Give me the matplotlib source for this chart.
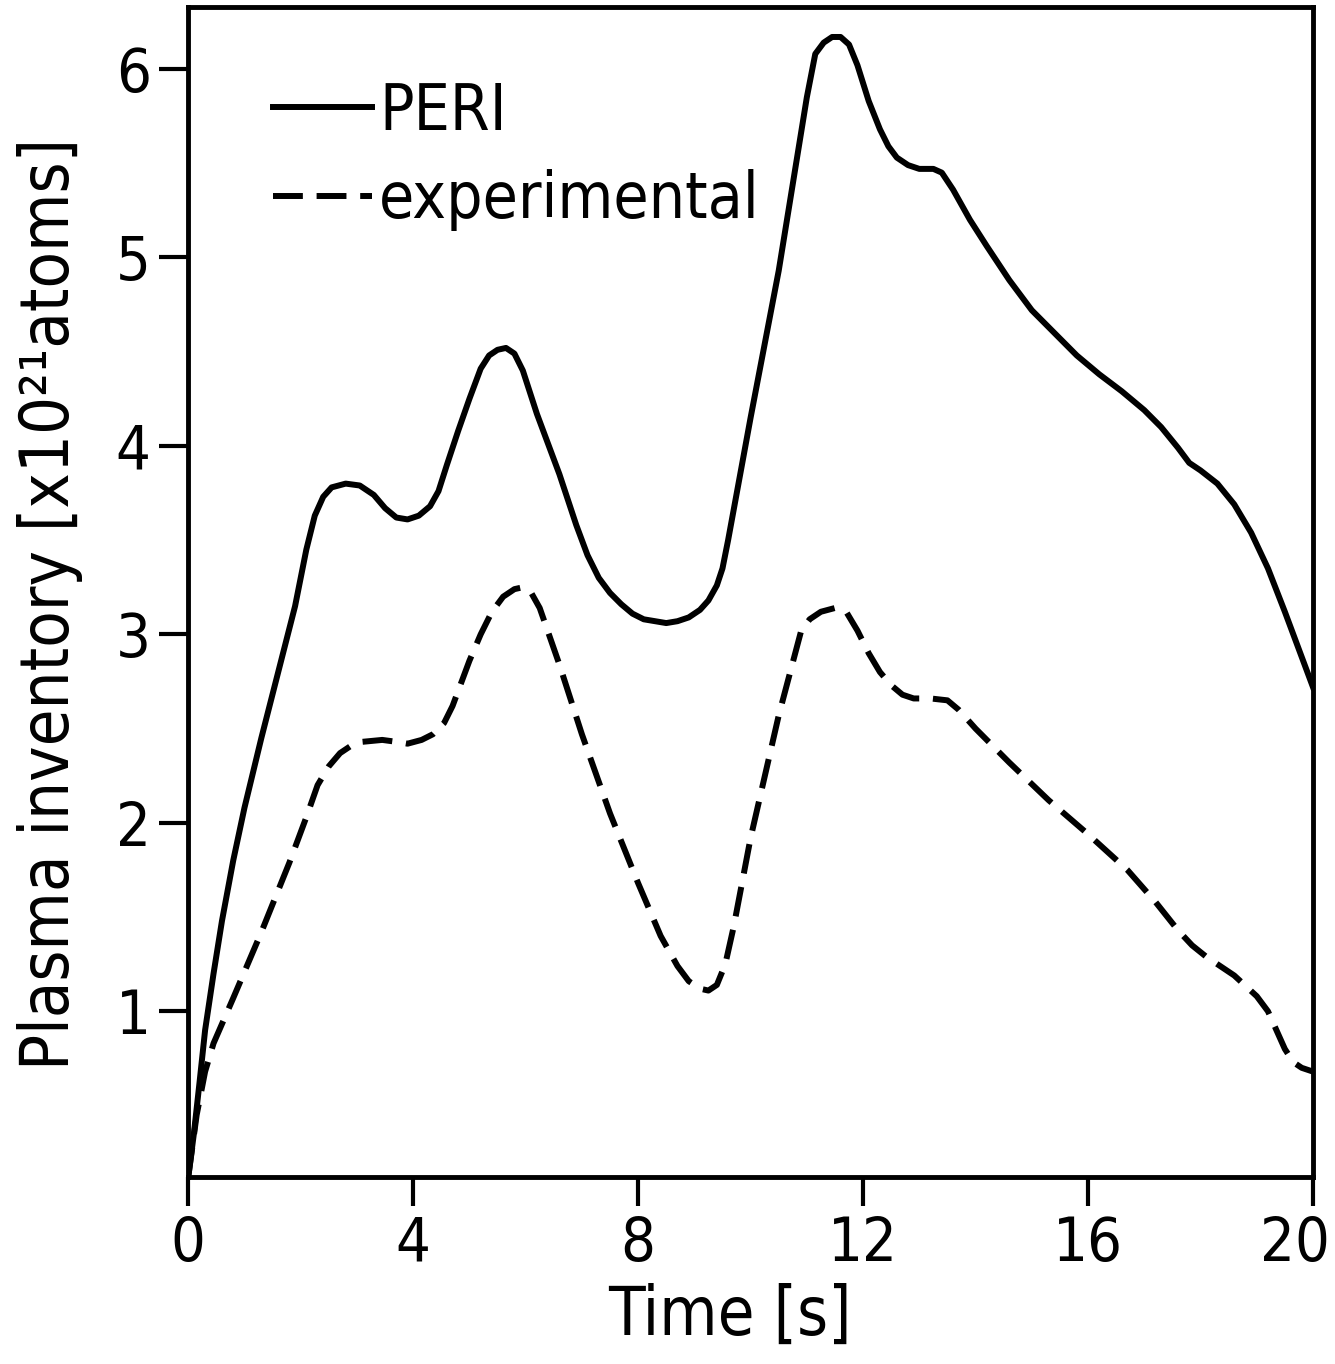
import matplotlib
matplotlib.use("Agg")
import matplotlib.pyplot as plt
import matplotlib.transforms as mtransforms

plt.rcParams['font.family'] = ['DejaVu Sans']
plt.rcParams['font.stretch'] = 'condensed'

# PERI (calculated) inventory
t_peri = [0.0, 0.1, 0.2, 0.3, 0.45, 0.6, 0.8, 1.0, 1.3, 1.6, 1.9, 2.1, 2.25, 2.4, 2.55,
          2.8, 3.05, 3.3, 3.5, 3.7, 3.9, 4.1, 4.3, 4.45, 4.6, 4.8, 5.0, 5.2, 5.35, 5.5,
          5.65, 5.8, 5.95, 6.2, 6.6, 6.9, 7.1, 7.3, 7.5, 7.7, 7.9, 8.1, 8.3, 8.5, 8.7,
          8.9, 9.1, 9.25, 9.4, 9.5, 9.6, 10.0, 10.5, 11.0, 11.15, 11.3, 11.45, 11.6,
          11.75, 11.9, 12.1, 12.3, 12.45, 12.6, 12.8, 13.0, 13.25, 13.4, 13.6, 13.9,
          14.2, 14.6, 15.0, 15.4, 15.8, 16.2, 16.6, 17.0, 17.3, 17.6, 17.8, 18.0, 18.3,
          18.6, 18.9, 19.2, 19.5, 19.75, 20.0]
v_peri = [0.12, 0.35, 0.62, 0.9, 1.2, 1.48, 1.8, 2.08, 2.45, 2.8, 3.15, 3.45, 3.63, 3.73,
          3.78, 3.8, 3.79, 3.74, 3.67, 3.62, 3.61, 3.63, 3.68, 3.76, 3.9, 4.08, 4.25,
          4.41, 4.48, 4.51, 4.52, 4.49, 4.4, 4.17, 3.85, 3.58, 3.42, 3.3, 3.22, 3.16,
          3.11, 3.08, 3.07, 3.06, 3.07, 3.09, 3.13, 3.18, 3.26, 3.35, 3.5, 4.15, 4.93,
          5.85, 6.08, 6.14, 6.17, 6.17, 6.13, 6.02, 5.83, 5.68, 5.59, 5.53, 5.49, 5.47,
          5.47, 5.45, 5.36, 5.2, 5.06, 4.88, 4.72, 4.6, 4.48, 4.38, 4.29, 4.19, 4.1,
          3.99, 3.91, 3.87, 3.8, 3.69, 3.54, 3.35, 3.12, 2.92, 2.72]

# experimental inventory
t_exp = [0.0, 0.15, 0.3, 0.45, 0.8, 1.3, 1.8, 2.1, 2.3, 2.5, 2.7, 2.9, 3.1, 3.45, 3.7,
         3.9, 4.15, 4.35, 4.55, 4.7, 4.85, 5.0, 5.2, 5.4, 5.6, 5.8, 5.95, 6.1, 6.25,
         6.6, 7.0, 7.5, 8.0, 8.4, 8.7, 8.9, 9.1, 9.25, 9.4, 9.55, 9.7, 10.0, 10.5,
         10.9, 11.05, 11.25, 11.5, 11.7, 11.9, 12.1, 12.3, 12.5, 12.7, 12.9, 13.2,
         13.5, 13.7, 14.0, 14.6, 15.3, 16.0, 16.7, 17.2, 17.6, 17.85, 18.1, 18.6,
         19.0, 19.2, 19.35, 19.5, 19.65, 19.8, 20.0]
v_exp = [0.12, 0.45, 0.68, 0.83, 1.07, 1.42, 1.79, 2.03, 2.2, 2.3, 2.37, 2.41, 2.43,
         2.44, 2.43, 2.42, 2.44, 2.47, 2.53, 2.62, 2.74, 2.86, 3.0, 3.12, 3.2, 3.24,
         3.25, 3.22, 3.14, 2.84, 2.47, 2.05, 1.68, 1.4, 1.24, 1.16, 1.12, 1.11, 1.14,
         1.25, 1.45, 1.92, 2.57, 3.02, 3.08, 3.12, 3.14, 3.12, 3.02, 2.9, 2.8, 2.73,
         2.68, 2.66, 2.66, 2.65, 2.6, 2.5, 2.32, 2.12, 1.94, 1.75, 1.58, 1.43, 1.35,
         1.29, 1.19, 1.08, 1.0, 0.9, 0.8, 0.73, 0.7, 0.68]

x_ticks = [0, 4, 8, 12, 16, 20]
y_ticks = [1, 2, 3, 4, 5, 6]

fig = plt.figure(figsize=(13.35, 13.64), dpi=100)
ax = fig.add_axes([0.141, 0.137, 0.8425, 0.858])

ax.plot(t_peri, v_peri, color='black', lw=4.3, label='PERI')
ax.plot(t_exp, v_exp, color='black', lw=4.3, dashes=(5, 2.3), label='experimental')

ax.set_xlim(0, 20)
ax.set_ylim(0.12, 6.33)
ax.set_xticks(x_ticks)
ax.set_yticks(y_ticks)
ax.tick_params(direction='out', length=21, width=3, labelsize=44, pad=6)

# last x label sits inside the figure like in the original
lbl = ax.get_xticklabels()[-1]
lbl.set_transform(lbl.get_transform() +
                  mtransforms.ScaledTranslation(-0.18, 0, fig.dpi_scale_trans))

for sp in ax.spines.values():
    sp.set_linewidth(3.5)

ax.set_xlabel('Time [s]', fontsize=48)
ax.set_ylabel('Plasma inventory [x10²¹atoms]', fontsize=48)
ax.xaxis.set_label_coords(0.482, -0.09)
ax.yaxis.set_label_coords(-0.094, 0.49)

ax.legend(loc='upper left', bbox_to_anchor=(0.075, 0.937), frameon=False,
          fontsize=46, handlelength=1.55, handletextpad=0.12, labelspacing=0.42,
          borderpad=0, borderaxespad=0)

fig.savefig('out.png', dpi=100)
